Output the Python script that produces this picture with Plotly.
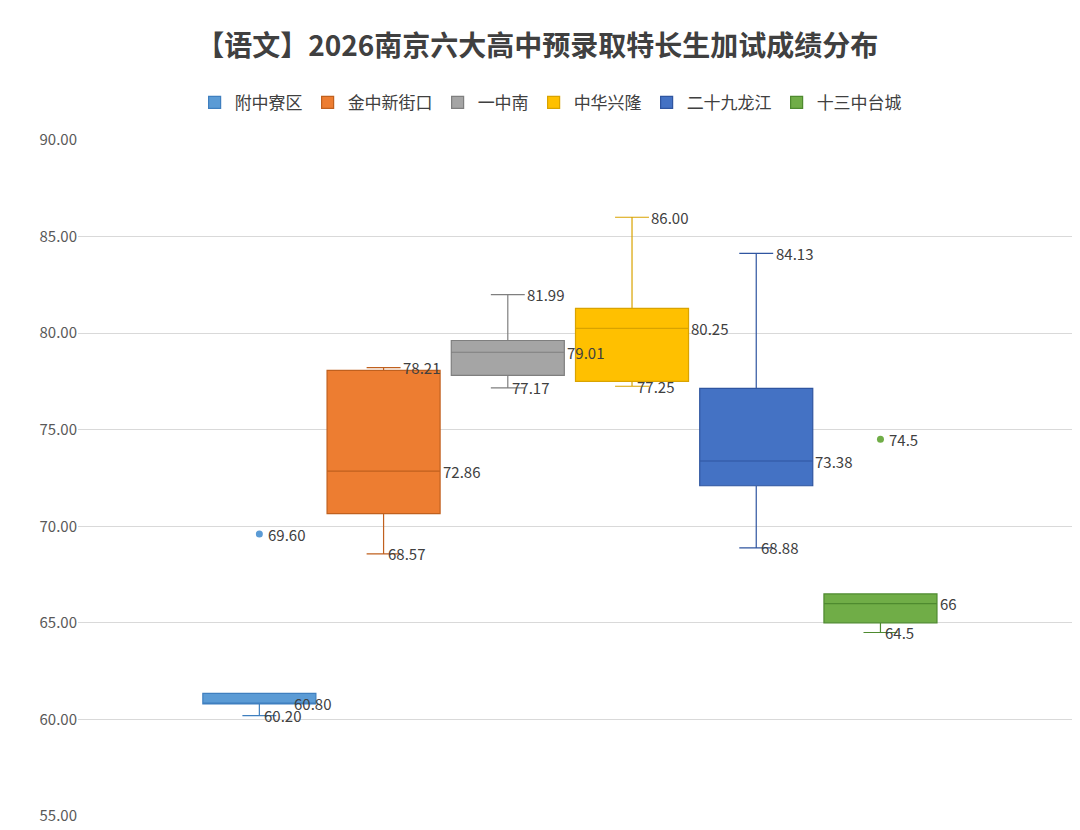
import plotly.graph_objects as go

# data
schools = ["附中寮区", "金中新街口", "一中南", "中华兴隆", "二十九龙江", "十三中台城"]
lower = [60.20, 68.57, 77.17, 77.25, 68.88, 64.5]
q1 = [60.80, 70.66, 77.81, 77.50, 72.10, 65.0]
median = [60.80, 72.86, 79.01, 80.25, 73.38, 66.0]
q3 = [61.35, 78.07, 79.62, 81.28, 77.14, 66.5]
upper = [61.35, 78.21, 81.99, 86.00, 84.13, 66.5]
outlier_x = [0, 5]
outlier_y = [69.60, 74.5]
lower_lbl = ["60.20", "68.57", "77.17", "77.25", "68.88", "64.5"]
median_lbl = ["60.80", "72.86", "79.01", "80.25", "73.38", "66"]
upper_lbl = [None, "78.21", "81.99", "86.00", "84.13", None]
outlier_lbl = ["69.60", "74.5"]

fill = ["#5B9BD5", "#ED7D31", "#A5A5A5", "#FFC000", "#4472C4", "#70AD47"]
edge = ["#3F7FBF", "#C0601E", "#7F7F7F", "#D9A300", "#2F55A0", "#4E8A2F"]

fig = go.Figure()
for i, s in enumerate(schools):
    fig.add_trace(go.Box(
        x=[i], q1=[q1[i]], median=[median[i]], q3=[q3[i]],
        lowerfence=[lower[i]], upperfence=[upper[i]],
        name=s, width=0.91, whiskerwidth=0.3,
        fillcolor=fill[i], line=dict(color=edge[i], width=1.2),
        boxpoints=False,
    ))

fig.add_trace(go.Scatter(
    x=outlier_x, y=outlier_y, mode="markers", showlegend=False,
    marker=dict(size=7, color=[fill[0], fill[5]]),
))

lbl_font = dict(size=15, color="#404040")
ann = []
for i in range(len(schools)):
    ann.append(dict(x=i + 0.02, y=lower[i], text=lower_lbl[i], xanchor="left",
                    yanchor="middle", showarrow=False, font=lbl_font))
    mx = i + 0.26 if i == 0 else i + 0.46
    ann.append(dict(x=mx, y=median[i], text=median_lbl[i], xanchor="left",
                    yanchor="middle", showarrow=False, font=lbl_font))
    if upper_lbl[i]:
        ann.append(dict(x=i + 0.14, y=upper[i], text=upper_lbl[i], xanchor="left",
                        yanchor="middle", showarrow=False, font=lbl_font))
for x, y, t in zip(outlier_x, outlier_y, outlier_lbl):
    ann.append(dict(x=x + 0.05, y=y, text=t, xanchor="left", yanchor="middle",
                    showarrow=False, font=lbl_font))

fig.update_layout(
    width=1080, height=830,
    paper_bgcolor="white", plot_bgcolor="white",
    font=dict(family="Noto Sans CJK SC", color="#404040"),
    title=dict(text="<b>【语文】2026南京六大高中预录取特长生加试成绩分布</b>",
               x=0.49, xanchor="center", y=0.954, yanchor="middle",
               font=dict(size=28, color="#404040")),
    legend=dict(orientation="h", x=0.475, xanchor="center", y=1.055, yanchor="middle",
                font=dict(size=17, color="#404040")),
    margin=dict(l=70, r=15, t=132, b=22),
    showlegend=True,
    xaxis=dict(range=[-1.46, 6.55], visible=False),
    yaxis=dict(range=[55, 90], dtick=5, tickformat=".2f", showgrid=True,
               gridcolor="#D9D9D9", zeroline=False, tickfont=dict(size=15, color="#595959"),
               showline=False),
    annotations=ann,
)

fig.write_html("out.html")
